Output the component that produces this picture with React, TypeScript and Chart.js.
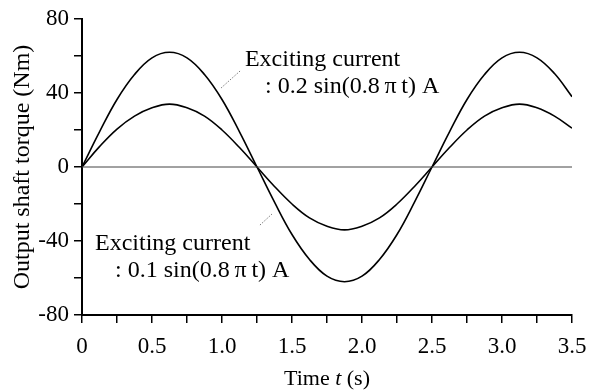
import React, { useEffect, useRef } from 'react';
import { Chart, registerables } from 'chart.js';

Chart.register(...registerables);

// ---- data ----
const times = [
  0, 0.125, 0.25, 0.375, 0.5, 0.625, 0.75, 0.875, 1.0, 1.125, 1.25, 1.375, 1.5, 1.625, 1.75,
  1.875, 2.0, 2.125, 2.25, 2.375, 2.5, 2.625, 2.75, 2.875, 3.0, 3.125, 3.25, 3.375, 3.5,
];
const torqueHigh = [
  0, 19, 36.5, 50, 59, 62, 59, 50, 36.5, 19, 0, -19, -36.5, -50, -59, -62, -59, -50, -36.5,
  -19, 0, 19, 36.5, 50, 59, 62, 59, 50.5, 38,
];
const torqueLow = [
  0, 11, 20.5, 27.5, 32, 34, 32, 27.5, 20, 10.5, 0, -10.5, -20, -27.5, -32, -34, -32, -27.5,
  -20, -10.5, 0, 10.5, 20, 27.5, 32, 34, 32, 27.5, 21,
];
const zeroTimes = [0, 3.5];
const zeroValues = [0, 0];

const xTickLabels = ['0', '0.5', '1.0', '1.5', '2.0', '2.5', '3.0', '3.5'];
const yTickLabels = ['-80', '-40', '0', '40', '80'];

const yTitle = 'Output shaft torque (Nm)';
const xTitleParts = ['Time ', 't', ' (s)'];

const upperLabel = ['Exciting current', ': 0.2 sin(0.8\u2009\u03c0\u2009t) A'];
const upperLabelAt = [
  [1.164, 54.6],
  [1.307, 40],
];
const upperLeader = [
  [1.129, 51.9],
  [0.986, 42.2],
];
const lowerLabel = ['Exciting current', ': 0.1 sin(0.8\u2009\u03c0\u2009t) A'];
const lowerLabelAt = [
  [0.093, -44.9],
  [0.236, -59.5],
];
const lowerLeader = [
  [1.271, -31.4],
  [1.357, -25.4],
];

const FONT = "'Liberation Serif', 'Times New Roman', serif";

const textPlugin = {
  id: 'texts',
  afterDraw(chart: any) {
    const { ctx, scales, chartArea } = chart;
    const xs = scales.x;
    const ys = scales.y;
    ctx.save();
    ctx.fillStyle = '#000';

    // annotations
    ctx.font = `24px ${FONT}`;
    ctx.textAlign = 'left';
    ctx.textBaseline = 'alphabetic';
    const drawLabel = (lines: string[], at: number[][]) => {
      lines.forEach((s, i) => {
        ctx.fillText(s, xs.getPixelForValue(at[i][0]), ys.getPixelForValue(at[i][1]));
      });
    };
    drawLabel(upperLabel, upperLabelAt);
    drawLabel(lowerLabel, lowerLabelAt);

    const drawLeader = (pts: number[][]) => {
      ctx.beginPath();
      ctx.strokeStyle = '#777';
      ctx.lineWidth = 1;
      ctx.setLineDash([1.5, 1.5]);
      ctx.moveTo(xs.getPixelForValue(pts[0][0]), ys.getPixelForValue(pts[0][1]));
      ctx.lineTo(xs.getPixelForValue(pts[1][0]), ys.getPixelForValue(pts[1][1]));
      ctx.stroke();
      ctx.setLineDash([]);
    };
    drawLeader(upperLeader);
    drawLeader(lowerLeader);

    // y title (rotated)
    ctx.save();
    ctx.font = `24px ${FONT}`;
    ctx.translate(23, (chartArea.top + chartArea.bottom) / 2);
    ctx.rotate(-Math.PI / 2);
    ctx.textAlign = 'center';
    ctx.textBaseline = 'middle';
    ctx.fillText(yTitle, 0, 0);
    ctx.restore();

    // x title with italic t
    const fonts = [`22px ${FONT}`, `italic 22px ${FONT}`, `22px ${FONT}`];
    let total = 0;
    const widths = xTitleParts.map((p, i) => {
      ctx.font = fonts[i];
      const w = ctx.measureText(p).width;
      total += w;
      return w;
    });
    let x = (chartArea.left + chartArea.right) / 2 - total / 2;
    ctx.textAlign = 'left';
    ctx.textBaseline = 'alphabetic';
    xTitleParts.forEach((p, i) => {
      ctx.font = fonts[i];
      ctx.fillText(p, x, 385);
      x += widths[i];
    });
    ctx.restore();
  },
};

export default function App() {
  const ref = useRef<HTMLCanvasElement | null>(null);

  useEffect(() => {
    if (!ref.current) return;
    const chart = new Chart(ref.current, {
      type: 'line',
      data: {
        datasets: [
          {
            label: 'zero',
            data: zeroTimes.map((t, i) => ({ x: t, y: zeroValues[i] })),
            borderColor: '#444',
            borderWidth: 1,
            pointRadius: 0,
            tension: 0,
          },
          {
            label: '0.2 A',
            data: times.map((t, i) => ({ x: t, y: torqueHigh[i] })),
            borderColor: '#000',
            borderWidth: 1.6,
            pointRadius: 0,
            tension: 0.4,
          },
          {
            label: '0.1 A',
            data: times.map((t, i) => ({ x: t, y: torqueLow[i] })),
            borderColor: '#000',
            borderWidth: 1.6,
            pointRadius: 0,
            tension: 0.4,
          },
        ],
      },
      options: {
        animation: false,
        responsive: false,
        devicePixelRatio: 1,
        layout: { padding: { top: 19, right: 30, left: 0, bottom: 0 } },
        plugins: {
          legend: { display: false },
          tooltip: { enabled: false },
          title: { display: false },
        },
        scales: {
          x: {
            type: 'linear',
            min: 0,
            max: 3.5,
            afterFit: (s: any) => {
              s.height = 75;
            },
            ticks: {
              stepSize: 0.25,
              autoSkip: false,
              maxRotation: 0,
              color: '#000',
              padding: 10,
              font: { family: FONT, size: 23 },
              callback: (v: any) => {
                const n = Number(v) * 2;
                const i = Math.round(n);
                return Math.abs(n - i) < 1e-6 ? xTickLabels[i] : '';
              },
            },
            grid: {
              drawOnChartArea: false,
              drawTicks: true,
              tickLength: 8,
              color: '#000',
              lineWidth: 1.5,
            },
            border: { display: true, color: '#000', width: 2 },
          },
          y: {
            type: 'linear',
            min: -80,
            max: 80,
            afterFit: (s: any) => {
              s.width = 82;
            },
            ticks: {
              stepSize: 20,
              autoSkip: false,
              color: '#000',
              padding: 5,
              font: { family: FONT, size: 23 },
              callback: (v: any) => {
                const n = (Number(v) + 80) / 40;
                const i = Math.round(n);
                return Math.abs(n - i) < 1e-6 ? yTickLabels[i] : '';
              },
            },
            grid: {
              drawOnChartArea: false,
              drawTicks: true,
              tickLength: 8,
              color: '#000',
              lineWidth: 1.5,
            },
            border: { display: true, color: '#000', width: 2 },
          },
        },
      },
      plugins: [textPlugin],
    });
    return () => chart.destroy();
  }, []);

  return (
    <div style={{ position: 'fixed', left: 0, top: 0, width: 602, height: 390, background: '#fff' }}>
      <canvas ref={ref} width={602} height={390} style={{ width: 602, height: 390, display: 'block' }} />
    </div>
  );
}
